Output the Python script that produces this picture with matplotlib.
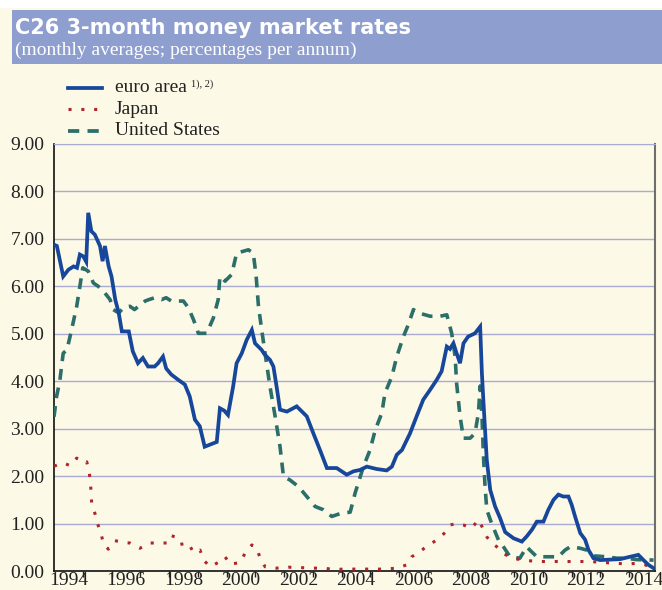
import matplotlib
matplotlib.use('Agg')
import matplotlib.pyplot as plt
from matplotlib.patches import Rectangle
from matplotlib.lines import Line2D
import numpy as np

# ---- data (decimal year, % p.a.) ----
ea_t = [1994.00, 1994.10, 1994.32, 1994.50, 1994.68, 1994.80, 1994.90, 1995.02, 1995.12, 1995.19,
        1995.30, 1995.42, 1995.60, 1995.69, 1995.77, 1995.90, 1996.00, 1996.13, 1996.25, 1996.36,
        1996.60, 1996.74, 1996.92, 1997.09, 1997.27, 1997.50, 1997.62, 1997.79, 1997.90, 1998.08,
        1998.32, 1998.55, 1998.72, 1998.90, 1999.07, 1999.24, 1999.66, 1999.77, 1999.92, 2000.05,
        2000.23, 2000.35, 2000.53, 2000.70, 2000.88, 2000.99, 2001.22, 2001.33, 2001.51, 2001.63,
        2001.74, 2001.86, 2002.10, 2002.44, 2002.79, 2003.02, 2003.25, 2003.49, 2003.83, 2004.18,
        2004.41, 2004.64, 2004.88, 2005.22, 2005.57, 2005.75, 2005.92, 2006.10, 2006.38, 2006.61,
        2006.84, 2007.08, 2007.31, 2007.48, 2007.66, 2007.77, 2007.89, 2008.00, 2008.12, 2008.24,
        2008.40, 2008.64, 2008.82, 2008.88, 2008.93, 2009.05, 2009.17, 2009.34, 2009.51, 2009.69,
        2009.98, 2010.27, 2010.44, 2010.62, 2010.79, 2011.02, 2011.19, 2011.37, 2011.54, 2011.71,
        2011.89, 2012.00, 2012.12, 2012.30, 2012.47, 2012.59, 2012.76, 2012.99, 2013.34, 2013.69,
        2014.03, 2014.32, 2014.50, 2014.67, 2014.85]
ea_v = [6.88, 6.85, 6.21, 6.35, 6.42, 6.39, 6.67, 6.63, 6.52, 7.55,
        7.16, 7.09, 6.85, 6.53, 6.85, 6.42, 6.21, 5.72, 5.44, 5.05,
        5.05, 4.63, 4.38, 4.49, 4.31, 4.31, 4.38, 4.52, 4.27, 4.14,
        4.03, 3.93, 3.68, 3.19, 3.05, 2.62, 2.72, 3.43, 3.38, 3.29,
        3.89, 4.38, 4.59, 4.87, 5.08, 4.80, 4.66, 4.56, 4.45, 4.31,
        3.89, 3.40, 3.36, 3.47, 3.26, 2.90, 2.55, 2.17, 2.17, 2.03,
        2.10, 2.13, 2.20, 2.15, 2.12, 2.20, 2.45, 2.55, 2.90, 3.26,
        3.61, 3.82, 4.03, 4.21, 4.73, 4.68, 4.80, 4.59, 4.38, 4.80,
        4.94, 5.01, 5.15, 4.17, 3.61, 2.34, 1.71, 1.36, 1.12, 0.82,
        0.69, 0.62, 0.73, 0.87, 1.04, 1.04, 1.29, 1.50, 1.61, 1.57,
        1.57, 1.40, 1.15, 0.80, 0.66, 0.44, 0.27, 0.23, 0.24, 0.25,
        0.30, 0.34, 0.23, 0.13, 0.06]

jp_t = [1994.00, 1994.32, 1994.56, 1994.79, 1995.02, 1995.14, 1995.23, 1995.27, 1995.31, 1995.43,
        1995.52, 1995.64, 1995.72, 1995.89, 1996.12, 1996.41, 1996.64, 1996.99, 1997.34, 1997.63,
        1997.92, 1998.06, 1998.20, 1998.38, 1998.67, 1998.85, 1999.08, 1999.20, 1999.43, 1999.71,
        1999.95, 2000.12, 2000.47, 2000.64, 2000.88, 2001.05, 2001.17, 2001.34, 2001.74, 2002.15,
        2002.62, 2003.02, 2003.40, 2003.72, 2004.06, 2004.41, 2005.11, 2005.46, 2005.92, 2006.27,
        2006.44, 2006.73, 2007.02, 2007.31, 2007.60, 2007.77, 2008.00, 2008.24, 2008.52, 2008.76,
        2008.88, 2009.05, 2009.22, 2009.40, 2009.63, 2009.92, 2010.32, 2010.79, 2011.71, 2012.64,
        2013.10, 2013.57, 2013.92, 2014.26, 2014.55, 2014.79]
jp_v = [2.21, 2.28, 2.22, 2.38, 2.28, 2.30, 2.06, 1.85, 1.43, 1.20,
        0.99, 0.78, 0.57, 0.46, 0.64, 0.60, 0.59, 0.48, 0.59, 0.59,
        0.59, 0.75, 0.72, 0.56, 0.59, 0.39, 0.44, 0.23, 0.09, 0.18,
        0.30, 0.14, 0.18, 0.37, 0.55, 0.48, 0.27, 0.09, 0.06, 0.08,
        0.07, 0.06, 0.06, 0.03, 0.04, 0.04, 0.04, 0.04, 0.06, 0.13,
        0.30, 0.41, 0.55, 0.65, 0.81, 0.97, 1.00, 0.97, 0.90, 1.08,
        0.94, 0.72, 0.59, 0.51, 0.37, 0.27, 0.23, 0.20, 0.20, 0.20,
        0.18, 0.16, 0.15, 0.16, 0.13, 0.08]

us_t = [1994.00, 1994.09, 1994.20, 1994.32, 1994.45, 1994.61, 1994.79, 1994.90, 1995.00, 1995.19,
        1995.37, 1995.54, 1995.77, 1995.95, 1996.06, 1996.25, 1996.42, 1996.64, 1996.80, 1996.94,
        1997.17, 1997.30, 1997.50, 1997.74, 1997.90, 1998.08, 1998.50, 1998.67, 1998.85, 1999.02,
        1999.31, 1999.54, 1999.71, 1999.77, 1999.95, 2000.18, 2000.35, 2000.76, 2000.93, 2001.03,
        2001.11, 2001.24, 2001.34, 2001.51, 2001.69, 2001.86, 2001.98, 2002.20, 2002.50, 2002.79,
        2003.08, 2003.37, 2003.66, 2004.00, 2004.30, 2004.47, 2004.76, 2004.99, 2005.17, 2005.40,
        2005.51, 2005.75, 2005.92, 2006.15, 2006.32, 2006.50, 2006.67, 2007.08, 2007.43, 2007.66,
        2007.83, 2007.95, 2008.00, 2008.12, 2008.24, 2008.47, 2008.64, 2008.76, 2008.82, 2008.88,
        2008.93, 2008.99, 2009.05, 2009.22, 2009.46, 2009.63, 2009.86, 2010.20, 2010.44, 2010.55,
        2010.79, 2011.54, 2011.77, 2011.95, 2012.30, 2012.53, 2012.76, 2013.20, 2013.57, 2013.90,
        2014.26, 2014.85]
us_v = [3.25, 3.68, 4.00, 4.59, 4.66, 5.08, 5.58, 6.00, 6.39, 6.32,
        6.07, 6.00, 5.86, 5.72, 5.51, 5.44, 5.55, 5.58, 5.51, 5.58,
        5.69, 5.72, 5.76, 5.72, 5.76, 5.69, 5.69, 5.55, 5.30, 5.01,
        5.01, 5.33, 5.72, 6.21, 6.11, 6.25, 6.70, 6.77, 6.70, 6.21,
        5.58, 5.01, 4.59, 3.89, 3.26, 2.62, 1.99, 1.92, 1.78, 1.57,
        1.36, 1.29, 1.15, 1.22, 1.24, 1.64, 2.20, 2.55, 2.97, 3.33,
        3.75, 4.10, 4.52, 4.94, 5.19, 5.51, 5.44, 5.37, 5.37, 5.40,
        5.01, 4.52, 3.96, 3.26, 2.80, 2.80, 2.90, 3.33, 3.90, 3.33,
        2.48, 1.78, 1.29, 1.00, 0.65, 0.51, 0.30, 0.27, 0.51, 0.44,
        0.30, 0.30, 0.44, 0.51, 0.48, 0.44, 0.32, 0.30, 0.27, 0.27,
        0.24, 0.23]

year_labels = ['1994', '1996', '1998', '2000', '2002', '2004', '2006', '2008', '2010', '2012', '2014']
y_ticks = [0, 1, 2, 3, 4, 5, 6, 7, 8, 9]

# ---- colours ----
BG = '#fdf9e7'
HEADER = '#8e9ecf'
GRID = '#a9abd3'
C_EA = '#17479a'
C_JP = '#b0252b'
C_US = '#2b6e6a'
TXT = '#222222'

W, H = 662, 590
fig = plt.figure(figsize=(W / 100, H / 100), dpi=100)
fig.patch.set_facecolor(BG)

# white strip at very top, then header band
fig.add_artist(Rectangle((0, 1 - 8 / H), 1, 8 / H, transform=fig.transFigure,
                         facecolor='white', edgecolor='none'))
fig.add_artist(Rectangle((12 / W, 1 - 64 / H), 1, 54 / H, transform=fig.transFigure,
                         facecolor=HEADER, edgecolor='none'))
fig.text(15 / W, 1 - 28 / H, 'C26 3-month money market rates', color='white',
         fontsize=15, fontweight='bold', family='DejaVu Sans', va='center', ha='left')
fig.text(15 / W, 1 - 50 / H, '(monthly averages; percentages per annum)', color='white',
         fontsize=14, family='Liberation Serif', va='center', ha='left')

# ---- axes ----
ax = fig.add_axes([54 / W, 1 - 571 / H, (655 - 54) / W, (571 - 144) / H])
ax.set_facecolor(BG)

ax.plot(us_t, us_v, color=C_US, lw=2.6, linestyle=(0, (3.0, 2.2)), dash_capstyle='butt', zorder=3)
ax.plot(jp_t, jp_v, color=C_JP, lw=2.2, linestyle=(0, (1, 3.2)), dash_capstyle='butt', zorder=3)
ax.plot(ea_t, ea_v, color=C_EA, lw=2.7, zorder=4, solid_joinstyle='miter')

ax.set_xlim(1994.0, 2014.9)
ax.set_ylim(0, 9)
ax.set_yticks(y_ticks)
ax.set_yticklabels([f'{v:.2f}' for v in y_ticks])
ax.yaxis.grid(True, color=GRID, lw=1.0)
ax.set_axisbelow(True)

ax.set_xticks([int(s) + 0.5 for s in year_labels])
ax.set_xticklabels(year_labels)
ax.set_xticks(np.arange(1995, 2015), minor=True)
ax.tick_params(axis='x', which='major', length=0, pad=1)
ax.tick_params(axis='x', which='minor', length=4, width=1, color=TXT, direction='out')
ax.tick_params(axis='y', length=0, pad=7)
for lab in ax.get_xticklabels() + ax.get_yticklabels():
    lab.set_family('Liberation Serif')
    lab.set_fontsize(14)
    lab.set_color(TXT)

ax.spines['left'].set_color('#111111')
ax.spines['left'].set_linewidth(1.2)
ax.spines['bottom'].set_color('#111111')
ax.spines['bottom'].set_linewidth(1.2)
ax.spines['top'].set_color(GRID)
ax.spines['right'].set_color('#6e6e6e')
ax.spines['right'].set_linewidth(1.5)

# ---- legend drawn by hand ----
rows = [('euro area', C_EA, '-', 88), ('Japan', C_JP, (0, (1, 3.2)), 109),
        ('United States', C_US, (0, (3.0, 2.2)), 131)]
for name, col, ls, yy in rows:
    lw = 2.2 if name == 'Japan' else 2.7
    fig.add_artist(Line2D([68 / W, 102 / W], [1 - yy / H, 1 - yy / H], transform=fig.transFigure,
                          color=col, lw=lw, linestyle=ls, dash_capstyle='butt'))
    fig.text(115 / W, 1 - yy / H, name, fontsize=14, family='Liberation Serif',
             color=TXT, va='center', ha='left')
fig.text(191 / W, 1 - 84 / H, '1), 2)', fontsize=7.5, family='Liberation Serif',
         color=TXT, va='center', ha='left')

fig.savefig('out.png', dpi=100, facecolor=fig.get_facecolor())
